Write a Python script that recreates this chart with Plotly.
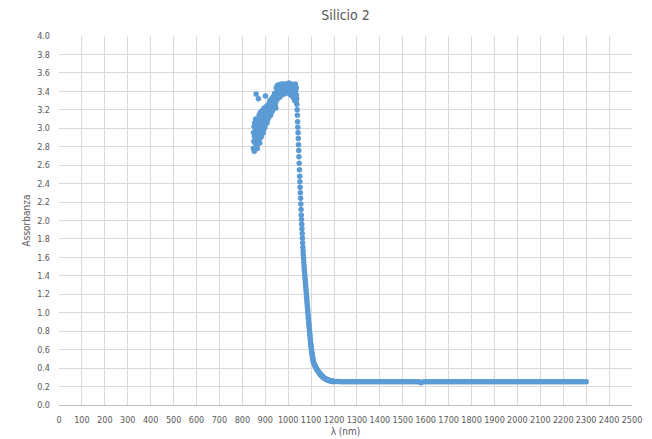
import plotly.graph_objects as go

# --- Spectrum of sample "Silicio 2" -------------------------------------
# noisy high-absorbance band, 1 nm sampling
wl_band = list(range(848, 1038))
abs_band = [
    2.78, 2.95, 2.86, 3.02, 2.75, 2.91, 3.06, 2.84, 2.97, 2.88,
    3.10, 2.92, 3.37, 2.99, 2.80, 3.04, 2.93, 2.78, 2.86, 2.98,
    3.08, 2.90, 3.32, 3.01, 2.88, 3.14, 2.92, 3.05, 2.84, 3.16,
    2.94, 3.09, 2.90, 3.18, 2.97, 3.05, 2.92, 3.15, 3.00, 2.96,
    3.09, 3.02, 3.20, 2.95, 3.06, 3.13, 2.99, 3.22, 3.04, 3.10,
    3.01, 3.16, 3.07, 3.35, 3.12, 3.05, 3.20, 3.09, 3.15, 3.24,
    3.06, 3.18, 3.13, 3.22, 3.10, 3.25, 3.16, 3.20, 3.12, 3.27,
    3.19, 3.15, 3.30, 3.18, 3.23, 3.14, 3.28, 3.21, 3.25, 3.17,
    3.32, 3.22, 3.27, 3.19, 3.30, 3.24, 3.34, 3.21, 3.28, 3.25,
    3.35, 3.23, 3.29, 3.38, 3.25, 3.31, 3.27, 3.37, 3.22, 3.30,
    3.44, 3.34, 3.39, 3.31, 3.46, 3.37, 3.42, 3.35, 3.47, 3.33,
    3.40, 3.45, 3.36, 3.43, 3.38, 3.47, 3.34, 3.41, 3.46, 3.39,
    3.44, 3.36, 3.48, 3.41, 3.38, 3.45, 3.43, 3.37, 3.47, 3.42,
    3.39, 3.46, 3.44, 3.40, 3.48, 3.37, 3.45, 3.42, 3.47, 3.41,
    3.44, 3.38, 3.46, 3.43, 3.48, 3.40, 3.45, 3.42, 3.47, 3.39,
    3.44, 3.48, 3.41, 3.46, 3.43, 3.49, 3.38, 3.45, 3.42, 3.47,
    3.40, 3.46, 3.43, 3.36, 3.48, 3.41, 3.45, 3.38, 3.44, 3.47,
    3.35, 3.42, 3.46, 3.39, 3.44, 3.33, 3.47, 3.40, 3.37, 3.45,
    3.30, 3.43, 3.38, 3.48, 3.34, 3.41, 3.29, 3.44, 3.36, 3.32,
]

# absorption edge, 1 nm sampling
wl_edge = list(range(1038, 1111))
abs_edge = [
    3.26, 3.20, 3.14, 3.07, 3.01, 2.95, 2.89, 2.82, 2.76, 2.69,
    2.62, 2.55, 2.48, 2.42, 2.36, 2.30, 2.24, 2.18, 2.12, 2.06,
    2.01, 1.96, 1.91, 1.86, 1.81, 1.76, 1.71, 1.67, 1.63, 1.59,
    1.55, 1.51, 1.48, 1.45, 1.42, 1.39, 1.36, 1.33, 1.30, 1.27,
    1.24, 1.21, 1.18, 1.15, 1.12, 1.09, 1.06, 1.03, 1.00, 0.97,
    0.94, 0.91, 0.88, 0.86, 0.83, 0.80, 0.77, 0.75, 0.72, 0.70,
    0.67, 0.65, 0.63, 0.61, 0.59, 0.57, 0.555, 0.54, 0.52, 0.505,
    0.49, 0.478, 0.465,
]

# knee of the edge, 2 nm sampling
wl_knee = list(range(1112, 1200, 2))
abs_knee = [
    0.452, 0.44, 0.43, 0.42, 0.41, 0.40, 0.39, 0.382, 0.375, 0.368,
    0.36, 0.353, 0.346, 0.34, 0.334, 0.328, 0.322, 0.317, 0.312, 0.307,
    0.303, 0.299, 0.295, 0.291, 0.288, 0.285, 0.282, 0.279, 0.277, 0.275,
    0.272, 0.27, 0.268, 0.266, 0.265, 0.263, 0.262, 0.261, 0.26, 0.259,
    0.258, 0.257, 0.256, 0.255,
]

# transparent region, 10 nm sampling
wl_flat = list(range(1200, 2310, 10))
abs_flat = [
    0.255, 0.254, 0.254, 0.253, 0.253, 0.253, 0.252, 0.252, 0.252, 0.252,
    0.252, 0.251, 0.251, 0.251, 0.251, 0.251, 0.251, 0.251, 0.251, 0.251,
    0.251, 0.251, 0.251, 0.251, 0.251, 0.251, 0.251, 0.251, 0.251, 0.251,
    0.251, 0.251, 0.251, 0.251, 0.251, 0.251, 0.251, 0.251, 0.240, 0.251,
    0.251, 0.251, 0.251, 0.251, 0.251, 0.251, 0.251, 0.251, 0.251, 0.251,
    0.251, 0.251, 0.251, 0.251, 0.251, 0.251, 0.251, 0.251, 0.251, 0.251,
    0.251, 0.251, 0.251, 0.251, 0.251, 0.251, 0.251, 0.251, 0.251, 0.251,
    0.251, 0.251, 0.251, 0.251, 0.251, 0.251, 0.251, 0.251, 0.251, 0.251,
    0.251, 0.251, 0.251, 0.251, 0.251, 0.251, 0.251, 0.251, 0.251, 0.251,
    0.251, 0.251, 0.251, 0.251, 0.251, 0.251, 0.251, 0.251, 0.251, 0.251,
    0.251, 0.251, 0.251, 0.251, 0.251, 0.251, 0.251, 0.251, 0.251, 0.251,
    0.251,
]

wavelength = wl_band + wl_edge + wl_knee + wl_flat
absorbance = abs_band + abs_edge + abs_knee + abs_flat

x_ticks = list(range(0, 2600, 100))
y_ticks = [round(0.2 * i, 1) for i in range(21)]

FONT = "Liberation Sans Narrow, DejaVu Sans Condensed, Liberation Sans, sans-serif"
TEXT = "#595959"
GRID = "#d9d9d9"

fig = go.Figure(
    go.Scatter(
        x=wavelength,
        y=absorbance,
        mode="markers",
        marker=dict(color="#5b9bd5", size=5.5, line=dict(width=0)),
        showlegend=False,
    )
)

fig.update_layout(
    width=652,
    height=439,
    margin=dict(l=59, r=20, t=36, b=34),
    paper_bgcolor="white",
    plot_bgcolor="white",
    font=dict(family=FONT, color=TEXT, size=10),
    title=dict(
        text="Silicio 2",
        x=0.5,
        xref="paper",
        xanchor="center",
        y=0.965,
        yref="container",
        yanchor="middle",
        font=dict(family=FONT, size=14, color=TEXT),
    ),
)

fig.update_xaxes(
    range=[0, 2500],
    tickvals=x_ticks,
    ticktext=[str(v) for v in x_ticks],
    tickangle=0,
    automargin=False,
    showgrid=True,
    gridcolor=GRID,
    gridwidth=1,
    zeroline=False,
    showline=True,
    linecolor="#bfbfbf",
    linewidth=1,
    ticks="",
    ticklabelstandoff=6,
    tickfont=dict(size=9, color=TEXT),
    title=dict(text="λ (nm)", font=dict(size=10, color=TEXT), standoff=4),
)

fig.update_yaxes(
    range=[0, 4.0],
    tickvals=y_ticks,
    ticktext=[f"{v:.1f}" for v in y_ticks],
    automargin=False,
    showgrid=True,
    gridcolor=GRID,
    gridwidth=1,
    zeroline=False,
    showline=False,
    ticks="",
    ticklabelstandoff=8,
    tickfont=dict(size=9, color=TEXT),
    title=dict(text="Assorbanza", font=dict(size=10, color=TEXT), standoff=4),
)

fig.write_html("out.html")
